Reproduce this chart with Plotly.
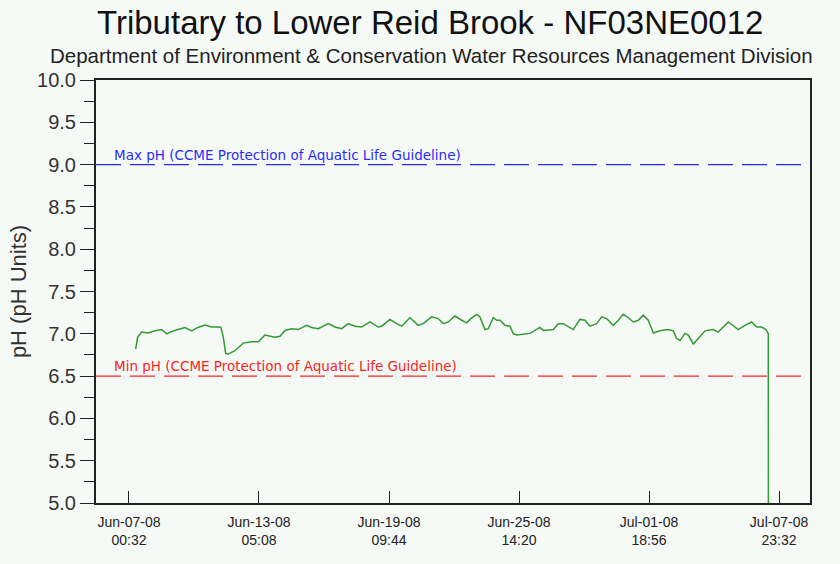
import plotly.graph_objects as go

title = "Tributary to Lower Reid Brook - NF03NE0012"
subtitle = "Department of Environment &amp; Conservation Water Resources Management Division"

times = [
    "2008-06-07 08:10", "2008-06-07 10:25", "2008-06-07 15:00", "2008-06-07 22:15",
    "2008-06-08 06:15", "2008-06-08 13:55", "2008-06-08 19:40", "2008-06-08 23:25",
    "2008-06-09 08:30", "2008-06-09 16:30", "2008-06-10 00:10", "2008-06-10 07:25",
    "2008-06-10 15:25", "2008-06-10 23:00", "2008-06-11 06:15", "2008-06-11 09:40",
    "2008-06-11 12:20", "2008-06-11 15:00", "2008-06-11 17:40", "2008-06-12 01:40",
    "2008-06-12 11:05", "2008-06-12 20:40", "2008-06-13 04:20", "2008-06-13 11:55",
    "2008-06-13 23:25", "2008-06-14 05:05", "2008-06-14 10:50", "2008-06-14 18:30",
    "2008-06-15 02:00", "2008-06-15 11:35", "2008-06-15 17:20", "2008-06-16 00:55",
    "2008-06-16 12:20", "2008-06-16 20:00", "2008-06-17 03:35", "2008-06-17 11:10",
    "2008-06-17 18:50", "2008-06-18 02:30", "2008-06-18 12:00", "2008-06-18 21:25",
    "2008-06-19 01:20", "2008-06-19 10:50", "2008-06-19 18:30", "2008-06-20 00:10",
    "2008-06-20 09:40", "2008-06-20 19:10", "2008-06-21 00:55", "2008-06-21 10:30",
    "2008-06-21 18:00", "2008-06-21 23:45", "2008-06-22 05:30", "2008-06-22 13:05",
    "2008-06-22 20:50", "2008-06-23 02:30", "2008-06-23 06:20", "2008-06-23 13:55",
    "2008-06-23 17:40", "2008-06-23 23:25", "2008-06-24 03:10", "2008-06-24 08:55",
    "2008-06-24 12:50", "2008-06-24 16:35", "2008-06-24 22:20", "2008-06-25 04:00",
    "2008-06-25 07:50", "2008-06-25 11:40", "2008-06-26 02:50", "2008-06-26 14:15",
    "2008-06-26 18:00", "2008-06-27 05:30", "2008-06-27 11:15", "2008-06-27 16:55",
    "2008-06-28 04:20", "2008-06-28 12:00", "2008-06-28 17:45", "2008-06-28 23:25",
    "2008-06-29 07:05", "2008-06-29 12:50", "2008-06-29 18:30", "2008-06-30 02:05",
    "2008-06-30 07:50", "2008-06-30 13:30", "2008-06-30 19:15", "2008-07-01 00:55",
    "2008-07-01 06:40", "2008-07-01 12:25", "2008-07-01 18:05", "2008-07-01 23:50",
    "2008-07-02 07:25", "2008-07-02 16:55", "2008-07-02 22:40", "2008-07-03 02:30",
    "2008-07-03 06:20", "2008-07-03 12:00", "2008-07-03 15:50", "2008-07-03 21:30",
    "2008-07-04 03:15", "2008-07-04 10:55", "2008-07-04 20:20", "2008-07-05 02:00",
    "2008-07-05 07:50", "2008-07-05 13:30", "2008-07-05 17:25", "2008-07-06 00:55",
    "2008-07-06 08:35", "2008-07-06 16:15", "2008-07-06 22:00", "2008-07-07 03:40",
    "2008-07-07 08:35", "2008-07-07 11:15", "2008-07-07 11:30",
]
ph = [
    6.82, 6.96, 7.02, 7.01,
    7.035, 7.05, 7.00, 7.02,
    7.05, 7.075, 7.035, 7.075,
    7.105, 7.08, 7.08, 7.075,
    6.96, 6.77, 6.76, 6.80,
    6.89, 6.905, 6.905, 6.985,
    6.96, 6.97, 7.04, 7.06,
    7.05, 7.10, 7.075, 7.06,
    7.12, 7.08, 7.06, 7.12,
    7.09, 7.08, 7.14, 7.08,
    7.09, 7.17, 7.12, 7.09,
    7.19, 7.10, 7.12, 7.20,
    7.18, 7.12, 7.14, 7.21,
    7.16, 7.13, 7.17, 7.23,
    7.20, 7.05, 7.06, 7.19,
    7.16, 7.16, 7.10, 7.09,
    7.00, 6.985, 7.005, 7.075,
    7.04, 7.05, 7.12, 7.12,
    7.05, 7.17, 7.16, 7.09,
    7.12, 7.20, 7.18, 7.10,
    7.16, 7.23, 7.19, 7.14,
    7.16, 7.22, 7.16, 7.01,
    7.035, 7.05, 7.035, 6.945,
    6.92, 7.005, 6.985, 6.88,
    6.945, 7.035, 7.05, 7.02,
    7.08, 7.14, 7.11, 7.05,
    7.10, 7.14, 7.08, 7.08,
    7.05, 7.00, 3.0,
]

tick_vals = ["2008-06-07 00:32", "2008-06-13 05:08", "2008-06-19 09:44",
             "2008-06-25 14:20", "2008-07-01 18:56", "2008-07-07 23:32"]
tick_text = ["Jun-07-08<br>00:32", "Jun-13-08<br>05:08", "Jun-19-08<br>09:44",
             "Jun-25-08<br>14:20", "Jul-01-08<br>18:56", "Jul-07-08<br>23:32"]
x_range = ["2008-06-05 10:50", "2008-07-09 10:56"]

max_ph = 9.0
min_ph = 6.5
max_label = "Max pH (CCME Protection of Aquatic Life Guideline)"
min_label = "Min pH (CCME Protection of Aquatic Life Guideline)"

bg = "#F6FAF7"
axis_col = "#222222"

# plot-area box in page pixels
L, R, T, B = 96, 810, 80, 503
W, H = 840, 564
PW, PH = R - L, B - T

fig = go.Figure()
fig.add_trace(go.Scatter(x=times, y=ph, mode="lines",
                         line=dict(color="#339933", width=1.5),
                         showlegend=False, cliponaxis=True))

fig.add_hline(y=max_ph, line=dict(color="#2B2BFF", width=1.2, dash="25px,9px"))
fig.add_hline(y=min_ph, line=dict(color="#FF2222", width=1.2, dash="25px,9px"))

fig.add_annotation(x=0.022, y=max_ph, xref="paper", yref="y", text=max_label,
                   showarrow=False, xanchor="left", yanchor="bottom", yshift=0,
                   font=dict(family="DejaVu Sans", size=13.5, color="#2B2BFF"))
fig.add_annotation(x=0.022, y=min_ph, xref="paper", yref="y", text=min_label,
                   showarrow=False, xanchor="left", yanchor="bottom", yshift=0,
                   font=dict(family="DejaVu Sans", size=13.5, color="#FF2222"))

fig.add_annotation(x=(430 - L) / PW, y=1 + (T - 22) / PH, xref="paper", yref="paper",
                   text=title, showarrow=False, xanchor="center", yanchor="middle",
                   font=dict(family="Liberation Sans", size=33, color="#111111"))
fig.add_annotation(x=(431 - L) / PW, y=1 + (T - 56) / PH, xref="paper", yref="paper",
                   text=subtitle, showarrow=False, xanchor="center", yanchor="middle",
                   font=dict(family="Liberation Sans", size=20.5, color="#222222"))

fig.update_layout(
    width=W, height=H,
    margin=dict(l=L, r=W - R, t=T, b=H - B, autoexpand=False),
    paper_bgcolor=bg, plot_bgcolor=bg,
    font=dict(family="Liberation Sans", color="#333333"),
    xaxis=dict(type="date", range=x_range, tickvals=tick_vals, ticktext=tick_text,
               ticks="inside", ticklen=12, tickcolor=axis_col, tickwidth=1.2,
               showline=True, linecolor=axis_col, linewidth=2, mirror=True,
               showgrid=False, zeroline=False, tickangle=0,
               tickfont=dict(family="Liberation Sans", size=14, color="#222222"),
               ticklabelstandoff=5),
    yaxis=dict(range=[5, 10], dtick=0.5, tick0=5, tickformat=".1f",
               ticks="outside", ticklen=14, tickcolor=axis_col, tickwidth=1.2,
               minor=dict(dtick=0.25, ticks="outside", ticklen=10,
                          tickcolor=axis_col, tickwidth=1.2, showgrid=False),
               showline=True, linecolor=axis_col, linewidth=2, mirror=True,
               showgrid=False, zeroline=False,
               tickfont=dict(family="Liberation Sans", size=20, color="#333333"),
               title=dict(text="pH (pH Units)", standoff=4,
                          font=dict(family="Liberation Sans", size=22, color="#333333"))),
)

fig.write_html("out.html", config={"displayModeBar": False},
               post_script="document.body.style.margin='0';"
                           "document.body.style.background='" + bg + "';")
